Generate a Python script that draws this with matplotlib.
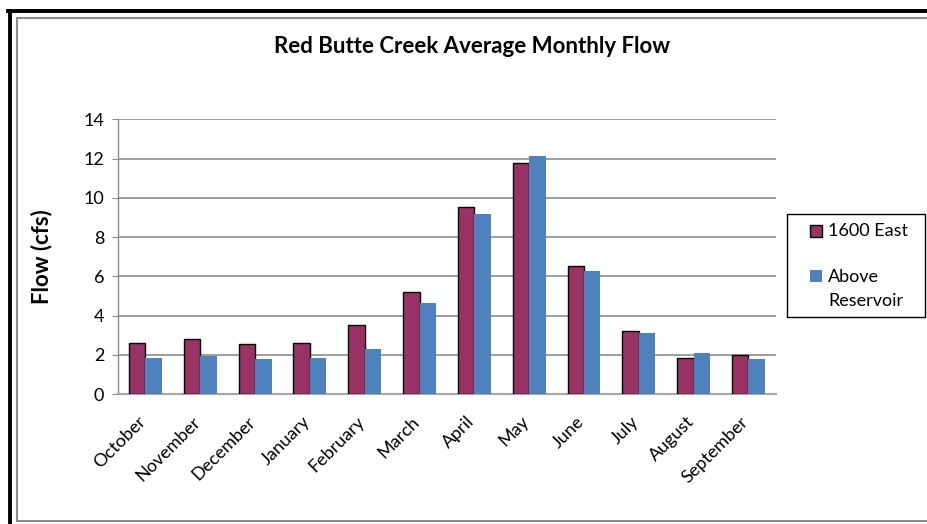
import numpy as np
import matplotlib.pyplot as plt
from matplotlib.lines import Line2D
from matplotlib.patches import Rectangle
from matplotlib.transforms import ScaledTranslation

plt.rcParams['font.family'] = ['Lato', 'DejaVu Sans']

months = ['October', 'November', 'December', 'January', 'February', 'March',
          'April', 'May', 'June', 'July', 'August', 'September']
east_1600 = [2.62, 2.82, 2.55, 2.62, 3.52, 5.2, 9.54, 11.77, 6.55, 3.2, 1.85, 2.0]
above_res = [1.85, 1.95, 1.80, 1.85, 2.31, 4.66, 9.18, 12.14, 6.28, 3.11, 2.09, 1.79]
yticks = [0, 2, 4, 6, 8, 10, 12, 14]

C_EAST = '#993366'
C_ABOVE = '#4F81BD'

W, H = 928, 524
fig = plt.figure(figsize=(W / 100, H / 100), dpi=100)
ax = fig.add_axes([0.1272, 0.248, 0.7088, 0.524])

x = np.arange(len(months))
w = 0.3
ax.bar(x - w / 2, east_1600, w, color=C_EAST, edgecolor='black',
       linewidth=1.0, zorder=3)
ax.bar(x + w / 2, above_res, w, color=C_ABOVE, linewidth=0, zorder=3)

ax.set_xlim(-0.5, len(months) - 0.5)
ax.set_ylim(0, 14)
ax.set_yticks(yticks)
ax.yaxis.grid(True, color='#8c8c8c', linewidth=1.2, zorder=0)
ax.set_axisbelow(True)
for s in ['top', 'right']:
    ax.spines[s].set_visible(False)
ax.spines['left'].set_color('#8c8c8c')
ax.spines['bottom'].set_color('#a6a6a6')
ax.spines['left'].set_linewidth(1.0)
ax.spines['bottom'].set_linewidth(1.5)
ax.tick_params(axis='y', length=4, color='#8c8c8c', labelsize=13, pad=6)
ax.tick_params(axis='x', length=0, pad=14)
ax.set_xticks(x)
ax.set_xticklabels(months, rotation=45, ha='right', rotation_mode='anchor',
                   fontsize=13)
shift = ScaledTranslation(-0.08, 0, fig.dpi_scale_trans)
for lab in ax.get_xticklabels():
    lab.set_transform(lab.get_transform() + shift)

ax.set_ylabel('Flow (cfs)', fontsize=16, fontweight='bold', labelpad=22)
fig.text(0.509, 0.912, 'Red Butte Creek Average Monthly Flow', ha='center',
         va='center', fontsize=16, fontweight='bold')

# legend box drawn by hand so the two-line label sits like the original
def px(xp, yp):
    return xp / W, 1 - yp / H

fig.add_artist(Rectangle(px(787, 317), 138 / W, 103 / H, fill=False,
                         edgecolor='black', linewidth=1.0,
                         transform=fig.transFigure))
fig.add_artist(Rectangle(px(810, 237), 12 / W, 12 / H, facecolor=C_EAST,
                         edgecolor='black', linewidth=1.0,
                         transform=fig.transFigure))
fig.add_artist(Rectangle(px(810, 282), 12 / W, 12 / H, facecolor=C_ABOVE,
                         linewidth=0, transform=fig.transFigure))
fig.text(*px(828, 231), '1600 East', fontsize=13, va='center')
fig.text(*px(828, 289), 'Above\nReservoir', fontsize=13, va='center',
         linespacing=1.6)

# chart frame: thick black outer edge and grey inner border
fig.add_artist(Line2D([10.5 / W, 10.5 / W], [0, 1 - 10.5 / H], color='black',
                      linewidth=2.8, transform=fig.transFigure))
fig.add_artist(Line2D([8.5 / W, 1], [1 - 10.5 / H, 1 - 10.5 / H], color='black',
                      linewidth=2.8, transform=fig.transFigure))
fig.add_artist(Line2D([17.5 / W, 17.5 / W, 1], [1 - 521 / H, 1 - 18 / H, 1 - 18 / H],
                      color='#8c8c8c', linewidth=1.5, transform=fig.transFigure))
fig.add_artist(Line2D([17.5 / W, 1], [1 - 521 / H, 1 - 521 / H],
                      color='#8c8c8c', linewidth=1.5, transform=fig.transFigure))

fig.savefig('out.png', dpi=100)
